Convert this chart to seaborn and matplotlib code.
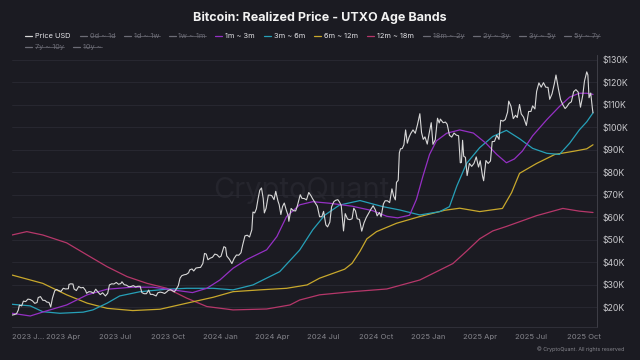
import pandas as pd
import matplotlib.pyplot as plt
from matplotlib.lines import Line2D
from matplotlib.ticker import FuncFormatter
import seaborn as sns

# --- Price USD (thousand $) ---
price_dates = [
    "2023-01-01", "2023-01-05", "2023-01-09", "2023-01-12", "2023-01-14", "2023-01-18", "2023-01-21", "2023-01-25",
    "2023-01-29", "2023-02-02", "2023-02-06", "2023-02-10", "2023-02-14", "2023-02-16", "2023-02-20", "2023-02-24",
    "2023-02-28", "2023-03-03", "2023-03-07", "2023-03-10", "2023-03-13", "2023-03-17", "2023-03-20", "2023-03-24",
    "2023-03-28", "2023-04-01", "2023-04-05", "2023-04-10", "2023-04-11", "2023-04-14", "2023-04-18", "2023-04-20",
    "2023-04-24", "2023-04-28", "2023-05-02", "2023-05-06", "2023-05-10", "2023-05-12", "2023-05-16", "2023-05-20",
    "2023-05-24", "2023-05-28", "2023-06-01", "2023-06-05", "2023-06-09", "2023-06-14", "2023-06-18", "2023-06-21",
    "2023-06-25", "2023-06-29", "2023-07-03", "2023-07-07", "2023-07-11", "2023-07-13", "2023-07-17", "2023-07-21",
    "2023-07-25", "2023-07-29", "2023-08-02", "2023-08-06", "2023-08-10", "2023-08-14", "2023-08-17", "2023-08-21",
    "2023-08-25", "2023-08-29", "2023-09-01", "2023-09-05", "2023-09-11", "2023-09-14", "2023-09-18", "2023-09-22",
    "2023-09-26", "2023-09-30", "2023-10-02", "2023-10-06", "2023-10-10", "2023-10-13", "2023-10-17", "2023-10-20",
    "2023-10-23", "2023-10-26", "2023-10-30", "2023-11-03", "2023-11-07", "2023-11-09", "2023-11-13", "2023-11-16",
    "2023-11-20", "2023-11-24", "2023-11-28", "2023-12-02", "2023-12-05", "2023-12-08", "2023-12-11", "2023-12-15",
    "2023-12-19", "2023-12-23", "2023-12-27", "2023-12-31",
    "2024-01-03", "2024-01-08", "2024-01-11", "2024-01-13", "2024-01-18", "2024-01-22", "2024-01-26", "2024-01-30",
    "2024-02-03", "2024-02-07", "2024-02-10", "2024-02-14", "2024-02-18", "2024-02-22", "2024-02-26", "2024-02-28",
    "2024-03-02", "2024-03-05", "2024-03-08", "2024-03-11", "2024-03-14", "2024-03-17", "2024-03-19", "2024-03-22",
    "2024-03-26", "2024-03-29", "2024-04-01", "2024-04-05", "2024-04-08", "2024-04-12", "2024-04-14", "2024-04-17",
    "2024-04-20", "2024-04-23", "2024-04-26", "2024-04-30", "2024-05-01", "2024-05-05", "2024-05-09", "2024-05-13",
    "2024-05-16", "2024-05-21", "2024-05-24", "2024-05-28", "2024-06-01", "2024-06-05", "2024-06-09", "2024-06-12",
    "2024-06-16", "2024-06-20", "2024-06-24", "2024-06-28", "2024-07-01", "2024-07-05", "2024-07-08", "2024-07-12",
    "2024-07-15", "2024-07-19", "2024-07-22", "2024-07-26", "2024-07-29", "2024-08-01", "2024-08-05", "2024-08-08",
    "2024-08-12", "2024-08-16", "2024-08-20", "2024-08-23", "2024-08-26", "2024-08-29", "2024-09-02", "2024-09-06",
    "2024-09-10", "2024-09-14", "2024-09-18", "2024-09-22", "2024-09-26", "2024-09-30", "2024-10-03", "2024-10-07",
    "2024-10-10", "2024-10-14", "2024-10-17", "2024-10-21", "2024-10-25", "2024-10-29", "2024-11-01", "2024-11-04",
    "2024-11-06", "2024-11-09", "2024-11-11", "2024-11-13", "2024-11-16", "2024-11-19", "2024-11-22", "2024-11-25",
    "2024-11-28", "2024-12-01", "2024-12-05", "2024-12-09", "2024-12-13", "2024-12-17", "2024-12-20", "2024-12-23",
    "2024-12-26", "2024-12-30",
    "2025-01-02", "2025-01-06", "2025-01-09", "2025-01-13", "2025-01-17", "2025-01-20", "2025-01-22", "2025-01-27",
    "2025-01-31", "2025-02-03", "2025-02-07", "2025-02-11", "2025-02-15", "2025-02-19", "2025-02-23", "2025-02-26",
    "2025-02-28", "2025-03-02", "2025-03-04", "2025-03-07", "2025-03-10", "2025-03-14", "2025-03-18", "2025-03-22",
    "2025-03-26", "2025-03-30", "2025-04-02", "2025-04-06", "2025-04-08", "2025-04-12", "2025-04-16", "2025-04-20",
    "2025-04-23", "2025-04-27", "2025-05-01", "2025-05-05", "2025-05-08", "2025-05-12", "2025-05-16", "2025-05-20",
    "2025-05-22", "2025-05-26", "2025-05-30", "2025-06-03", "2025-06-06", "2025-06-10", "2025-06-13", "2025-06-17",
    "2025-06-22", "2025-06-26", "2025-06-30", "2025-07-03", "2025-07-07", "2025-07-10", "2025-07-14", "2025-07-18",
    "2025-07-22", "2025-07-26", "2025-07-30", "2025-08-02", "2025-08-06", "2025-08-10", "2025-08-13", "2025-08-17",
    "2025-08-21", "2025-08-25", "2025-08-29", "2025-09-01", "2025-09-05", "2025-09-09", "2025-09-13", "2025-09-17",
    "2025-09-21", "2025-09-25", "2025-09-29", "2025-10-02", "2025-10-06", "2025-10-08", "2025-10-10", "2025-10-13",
    "2025-10-16", "2025-10-17",
]
price_usd = [
    16.6, 16.8, 17.2, 18.8, 21.0, 20.7, 22.8, 22.6, 23.7, 23.5, 22.9, 21.8, 22.2, 24.4, 24.8, 23.2,
    23.1, 22.4, 22.2, 20.2, 24.1, 27.4, 28.0, 27.5, 27.1, 28.5, 28.2, 28.3, 30.2, 30.5, 30.4, 28.2,
    27.5, 29.3, 28.7, 28.9, 27.6, 26.3, 27.0, 26.9, 26.3, 28.1, 26.8, 25.7, 26.5, 25.1, 26.3, 30.0,
    30.5, 30.4, 31.1, 30.3, 30.6, 31.4, 30.1, 29.9, 29.2, 29.3, 29.7, 29.1, 29.4, 29.4, 26.6, 26.1,
    26.1, 27.7, 25.8, 25.8, 25.1, 26.5, 26.8, 26.6, 26.2, 27.0, 27.5, 27.9, 27.4, 26.9, 28.4, 29.7,
    33.0, 34.1, 34.5, 34.7, 35.4, 36.7, 37.1, 36.2, 37.5, 37.7, 37.8, 39.5, 44.0, 43.7, 41.2, 41.9,
    42.3, 43.7, 43.4, 42.3,
    42.8, 47.0, 46.6, 42.9, 41.3, 39.5, 41.8, 43.3, 43.2, 44.3, 47.8, 51.8, 52.1, 51.3, 54.5, 62.4,
    62.0, 63.8, 68.3, 72.1, 73.1, 68.4, 62.0, 64.0, 69.9, 69.9, 69.7, 67.9, 71.6, 67.2, 65.7, 61.3,
    64.9, 66.4, 63.7, 60.6, 58.3, 64.0, 63.0, 62.9, 65.2, 70.1, 68.5, 68.4, 67.8, 71.1, 69.6, 68.2,
    66.6, 65.0, 60.3, 60.3, 62.7, 56.7, 55.8, 57.9, 64.7, 67.0, 67.6, 67.9, 66.8, 65.3, 54.0, 61.7,
    59.3, 59.0, 59.4, 64.1, 62.9, 59.4, 59.1, 53.9, 57.6, 60.0, 61.8, 63.6, 65.2, 63.3, 60.7, 62.2,
    60.3, 66.0, 67.4, 67.4, 66.6, 72.7, 69.5, 67.8, 75.6, 76.5, 88.7, 90.5, 90.6, 92.3, 98.9, 93.0,
    95.6, 97.3, 98.9, 97.4, 101.4, 106.1, 97.7, 94.7, 95.8, 92.6,
    96.9, 102.1, 92.5, 94.5, 104.1, 102.0, 103.7, 102.1, 102.4, 101.4, 96.5, 95.7, 97.5, 96.6, 96.3, 84.3,
    84.4, 94.3, 87.2, 86.7, 78.6, 84.0, 82.7, 84.0, 86.9, 82.4, 85.2, 78.4, 76.3, 85.3, 84.0, 85.1,
    93.7, 93.8, 96.5, 94.7, 103.2, 102.8, 103.5, 106.8, 111.7, 109.4, 103.9, 105.4, 104.4, 110.2, 106.0, 104.6,
    100.9, 107.1, 107.1, 109.6, 108.2, 116.0, 119.8, 117.9, 119.9, 117.9, 117.8, 112.5, 114.9, 119.3, 123.3, 117.5,
    112.4, 110.1, 108.4, 109.2, 110.7, 111.4, 115.9, 116.8, 115.7, 109.0, 114.3, 120.6, 124.7, 123.3, 113.2, 115.3,
    108.2, 106.5,
]

# --- 1m ~ 3m realized price ---
m1_3_dates = [
    "2023-01-01", "2023-02-02", "2023-02-26", "2023-04-07", "2023-05-13", "2023-06-17", "2023-08-01", "2023-09-05",
    "2023-10-10", "2023-11-14", "2023-12-09", "2024-01-01", "2024-01-24", "2024-02-18", "2024-03-23", "2024-04-10",
    "2024-04-27", "2024-05-20", "2024-06-12", "2024-07-12", "2024-08-20", "2024-09-25", "2024-10-20", "2024-11-08",
    "2024-11-29", "2024-12-11", "2024-12-22", "2025-01-03", "2025-01-15", "2025-02-02", "2025-02-25", "2025-03-21",
    "2025-04-12", "2025-05-01", "2025-05-18", "2025-06-01", "2025-06-15", "2025-07-03", "2025-07-28", "2025-08-19",
    "2025-09-06", "2025-09-23", "2025-10-06", "2025-10-17",
]
m1_3 = [
    17.4, 16.2, 18.1, 21.1, 25.6, 28.1, 29.0, 29.0, 27.8, 26.6, 28.5, 32.2, 37.4, 41.4, 45.6, 51.5,
    60.4, 65.6, 67.0, 66.3, 65.0, 63.0, 60.5, 59.8, 61.0, 68.0, 78.0, 88.0, 94.0, 97.4, 98.9, 97.5,
    93.0, 88.0, 84.3, 86.0, 89.5, 96.3, 103.5, 109.3, 113.5, 115.2, 115.2, 114.7,
]

# --- 3m ~ 6m realized price ---
m3_6_dates = [
    "2023-01-01", "2023-02-02", "2023-02-24", "2023-03-26", "2023-05-06", "2023-05-23", "2023-06-17", "2023-07-09",
    "2023-08-14", "2023-09-30", "2023-11-04", "2023-12-20", "2024-01-24", "2024-02-28", "2024-04-15", "2024-05-20",
    "2024-06-12", "2024-07-03", "2024-07-29", "2024-09-03", "2024-10-13", "2024-11-12", "2024-12-17", "2025-01-21",
    "2025-02-07", "2025-02-20", "2025-03-09", "2025-04-01", "2025-04-24", "2025-05-18", "2025-06-10", "2025-07-03",
    "2025-07-28", "2025-08-19", "2025-09-06", "2025-09-23", "2025-10-06", "2025-10-17",
]
m3_6 = [
    21.4, 20.7, 18.1, 17.4, 17.9, 18.9, 21.9, 25.1, 27.0, 28.1, 28.5, 28.5, 27.8, 30.0, 35.9, 45.5,
    54.5, 61.0, 65.5, 67.5, 64.8, 63.3, 61.1, 62.6, 64.8, 74.0, 84.0, 91.0, 96.0, 98.7, 95.0, 90.7,
    88.5, 88.0, 93.0, 98.9, 102.5, 106.5,
]

# --- 6m ~ 12m realized price ---
m6_12_dates = [
    "2023-01-01", "2023-02-24", "2023-04-07", "2023-05-13", "2023-06-17", "2023-08-01", "2023-09-18", "2023-11-04",
    "2023-12-20", "2024-01-24", "2024-03-11", "2024-04-27", "2024-06-02", "2024-06-24", "2024-08-07", "2024-08-20",
    "2024-09-03", "2024-09-15", "2024-10-02", "2024-11-06", "2024-12-17", "2025-01-30", "2025-02-25", "2025-04-01",
    "2025-05-11", "2025-05-27", "2025-06-10", "2025-07-10", "2025-08-11", "2025-09-15", "2025-10-06", "2025-10-17",
]
m6_12 = [
    34.4, 30.7, 25.6, 21.9, 19.6, 18.6, 19.2, 21.9, 24.5, 27.0, 27.8, 28.5, 30.0, 33.0, 37.0, 39.6,
    45.0, 50.5, 53.7, 57.4, 60.4, 63.2, 64.1, 62.6, 64.0, 71.0, 79.6, 84.0, 88.0, 89.5, 90.5, 92.3,
]

# --- 12m ~ 18m realized price ---
m12_18_dates = [
    "2023-01-01", "2023-01-27", "2023-02-24", "2023-04-07", "2023-05-13", "2023-06-17", "2023-07-22", "2023-08-26",
    "2023-09-30", "2023-11-04", "2023-12-09", "2024-01-24", "2024-03-23", "2024-05-03", "2024-05-20", "2024-06-24",
    "2024-08-20", "2024-10-20", "2024-12-17", "2025-02-13", "2025-03-09", "2025-04-01", "2025-04-24", "2025-05-18",
    "2025-07-10", "2025-08-25", "2025-09-23", "2025-10-17",
]
m12_18 = [
    52.2, 53.7, 52.2, 48.7, 43.3, 38.1, 33.7, 30.7, 28.5, 24.1, 20.4, 18.9, 19.3, 21.1, 23.3, 25.6,
    27.0, 28.2, 32.2, 39.5, 45.0, 50.5, 54.0, 56.0, 60.8, 64.0, 62.8, 62.2,
]

legend_labels = ["Price USD", "0d ~ 1d", "1d ~ 1w", "1w ~ 1m", "1m ~ 3m", "3m ~ 6m", "6m ~ 12m",
                 "12m ~ 18m", "18m ~ 2y", "2y ~ 3y", "3y ~ 5y", "5y ~ 7y", "7y ~ 10y", "10y ~"]

bg = "#1b1b22"
off_color = "#6c6c76"
colors = {
    "Price USD": "#d8d8d8",
    "1m ~ 3m": "#9530c4",
    "3m ~ 6m": "#26a0b8",
    "6m ~ 12m": "#c8a82c",
    "12m ~ 18m": "#b6376a",
}

sns.set_theme(style="dark", rc={"axes.facecolor": bg, "figure.facecolor": bg})
plt.rcParams["font.family"] = ["Inter", "DejaVu Sans"]

fig = plt.figure(figsize=(6.4, 3.6), dpi=100)
ax = fig.add_axes([12 / 640, 33 / 360, 585 / 640, 272 / 360])

ax.text(0.495, 0.5, "CryptoQuant", transform=ax.transAxes, ha="center", va="center",
        fontsize=21, color="#25252d", zorder=0)

series = [
    ("12m ~ 18m", m12_18_dates, m12_18),
    ("6m ~ 12m", m6_12_dates, m6_12),
    ("3m ~ 6m", m3_6_dates, m3_6),
    ("1m ~ 3m", m1_3_dates, m1_3),
    ("Price USD", price_dates, price_usd),
]
for name, d, v in series:
    sns.lineplot(x=pd.to_datetime(d), y=v, ax=ax, color=colors[name],
                 linewidth=0.8 if name == "Price USD" else 0.9, zorder=3)

ax.set_xlim(pd.Timestamp("2023-01-01"), pd.Timestamp("2025-10-24"))
ax.set_ylim(11.3, 132.2)

ax.yaxis.tick_right()
ax.set_yticks(range(20, 131, 10))
ax.yaxis.set_major_formatter(FuncFormatter(lambda v, p: f"${v:.0f}K"))
ax.tick_params(axis="y", length=0, pad=4, labelsize=6.3, labelcolor="#c8c8cc")

qticks = pd.date_range("2023-01-01", "2025-10-01", freq="QS")
ax.set_xticks(qticks)
ax.set_xticklabels(["2023 J..."] + [f"{d.year} {d.strftime('%b')}" for d in qticks[1:]])
ax.tick_params(axis="x", length=0, pad=5, labelsize=5.5, labelcolor="#85858c")
ax.get_xticklabels()[0].set_horizontalalignment("left")

ax.set_xlabel("")
ax.set_ylabel("")
ax.grid(axis="y", color="#2a2a33", linewidth=0.6)
ax.grid(axis="x", visible=False)
for side in ["top", "left"]:
    ax.spines[side].set_visible(False)
ax.spines["bottom"].set_color("#34343d")
ax.spines["bottom"].set_linewidth(0.6)
ax.spines["right"].set_color("#44444d")
ax.spines["right"].set_linewidth(0.6)

fig.text(0.5, 1 - 18 / 360, "Bitcoin: Realized Price - UTXO Age Bands", ha="center", va="center",
         fontsize=9, weight="bold", color="#f2f2f2")
fig.text(624 / 640, 1 - 349 / 360, "\u00a9 CryptoQuant. All rights reserved", ha="right", va="center",
         fontsize=3.8, color="#85858c")

# legend drawn as a flowing row of items, hidden series greyed and struck through
renderer = fig.canvas.get_renderer()
W, H = 640, 360
x, row_y = 25, 36
for lab in legend_labels:
    on = lab in colors
    col = colors[lab] if on else off_color
    t = fig.text(0, 0, lab, fontsize=5.3, color="#e4e4e8" if on else off_color, va="center")
    w = t.get_window_extent(renderer).width
    if x + 10 + w > 628:
        x, row_y = 25, row_y + 11
    t.set_position(((x + 10) / W, 1 - row_y / H))
    fig.add_artist(Line2D([x / W, (x + 7) / W], [1 - row_y / H] * 2, color=col, lw=0.9))
    if not on:
        fig.add_artist(Line2D([(x + 10) / W, (x + 10 + w) / W], [1 - row_y / H] * 2, color=off_color, lw=0.5))
    x = x + 10 + w + 9

fig.savefig("out.png", dpi=100, facecolor=bg)
